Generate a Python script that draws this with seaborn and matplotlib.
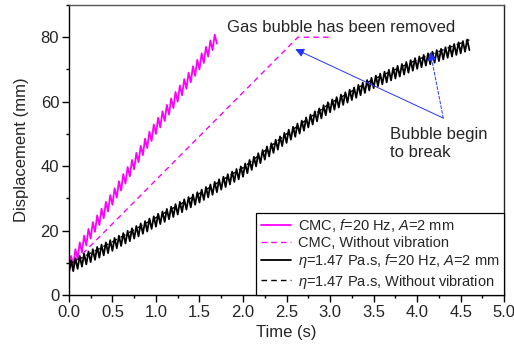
import numpy as np
import pandas as pd
import matplotlib
matplotlib.use("Agg")
import matplotlib.pyplot as plt
import seaborn as sns

# ---------------- data ----------------
# CMC, f=20 Hz, A=2 mm : vertices of the vibrating trace (every 0.025 s, 0 -> 1.7 s)
cmc_vib_disp = [
    7.0, 12.1, 9.1, 14.2, 11.2, 16.3, 13.3, 18.4, 15.4, 20.5,
    17.5, 22.6, 19.6, 24.7, 21.7, 26.8, 23.8, 28.9, 25.9, 31.0,
    28.0, 33.1, 30.2, 35.3, 32.4, 37.5, 34.6, 39.7, 36.8, 41.9,
    39.0, 44.1, 41.2, 46.3, 43.4, 48.5, 45.6, 50.7, 47.8, 52.9,
    50.0, 55.0, 52.0, 57.0, 54.0, 59.0, 56.0, 61.0, 58.0, 63.0,
    60.0, 65.0, 62.0, 67.0, 64.0, 69.0, 66.0, 71.0, 68.0, 73.0,
    70.0, 75.0, 72.0, 77.0, 74.0, 79.0, 76.0, 80.8, 78.0,
]
cmc_vib_t_end = 1.7

# CMC, without vibration
cmc_novib_t = [0.0, 2.63, 3.0]
cmc_novib_disp = [8.5, 80.0, 80.0]

# eta=1.47 Pa.s, f=20 Hz, A=2 mm : vertices every 0.025 s, 0 -> 4.6 s
eta_vib_disp = [
    6.7, 10.7, 7.4, 11.4, 8.1, 12.1, 8.8, 12.8, 9.5, 13.5,
    10.2, 14.2, 10.9, 14.9, 11.6, 15.6, 12.3, 16.3, 13.0, 17.0,
    13.7, 17.7, 14.5, 18.4, 15.2, 19.2, 16.0, 19.9, 16.7, 20.7,
    17.5, 21.4, 18.2, 22.2, 19.0, 22.9, 19.7, 23.7, 20.5, 24.4,
    21.2, 25.2, 22.0, 25.9, 22.7, 26.7, 23.5, 27.4, 24.2, 28.2,
    25.0, 28.9, 25.7, 29.7, 26.5, 30.4, 27.2, 31.2, 28.0, 31.9,
    28.7, 32.7, 29.5, 33.5, 30.3, 34.3, 31.1, 35.1, 31.9, 35.9,
    32.7, 36.7, 33.5, 37.5, 34.3, 38.3, 35.1, 39.1, 35.9, 39.9,
    36.7, 40.8, 37.8, 41.9, 38.8, 42.9, 39.9, 44.0, 40.9, 45.0,
    42.0, 46.1, 43.0, 47.1, 44.1, 48.2, 45.1, 49.2, 46.2, 50.3,
    47.2, 51.3, 48.2, 52.2, 49.1, 53.2, 50.1, 54.1, 51.0, 55.1,
    52.0, 56.0, 52.9, 57.0, 53.9, 57.9, 54.8, 58.9, 55.8, 59.8,
    56.7, 60.7, 57.5, 61.4, 58.2, 62.2, 59.0, 62.9, 59.7, 63.7,
    60.5, 64.4, 61.2, 65.2, 62.0, 65.9, 62.7, 66.7, 63.5, 67.4,
    64.2, 68.1, 64.8, 68.7, 65.4, 69.3, 66.0, 69.9, 66.6, 70.5,
    67.2, 71.1, 67.8, 71.7, 68.4, 72.3, 69.0, 72.9, 69.6, 73.5,
    70.2, 74.0, 70.7, 74.5, 71.2, 75.0, 71.6, 75.5, 72.1, 76.0,
    72.6, 76.4, 73.1, 76.9, 73.6, 77.4, 74.0, 77.9, 74.5, 78.4,
    75.0, 78.8, 75.5, 79.3, 76.0,
]
eta_vib_t_end = 4.6

# eta=1.47 Pa.s, without vibration
eta_novib_t = [0.0, 0.5, 1.0, 1.5, 2.0, 2.5, 3.0, 3.5, 4.0, 4.6]
eta_novib_disp = [9.5, 16.5, 24.0, 31.5, 39.5, 50.0, 59.5, 67.0, 73.0, 79.2]

labels = [
    "CMC, $f$=20 Hz, $A$=2 mm",
    "CMC, Without vibration",
    r"$\eta$=1.47 Pa.s, $f$=20 Hz, $A$=2 mm",
    r"$\eta$=1.47 Pa.s, Without vibration",
]
x_ticks = [0.0, 0.5, 1.0, 1.5, 2.0, 2.5, 3.0, 3.5, 4.0, 4.5, 5.0]
y_ticks = [0, 20, 40, 60, 80]

# ---------------- style ----------------
sns.set_theme(style="ticks")
plt.rcParams["font.family"] = ["Liberation Sans", "DejaVu Sans"]
plt.rcParams["mathtext.fontset"] = "custom"
plt.rcParams["mathtext.rm"] = "Liberation Sans"
plt.rcParams["mathtext.it"] = "Liberation Sans:italic"
plt.rcParams["mathtext.bf"] = "Liberation Sans:bold"

fig = plt.figure(figsize=(5.14, 3.45), dpi=100)
ax = fig.add_axes([0.134, 0.145, 0.847, 0.8405])

t_cmc = np.linspace(0, cmc_vib_t_end, len(cmc_vib_disp))
t_eta = np.linspace(0, eta_vib_t_end, len(eta_vib_disp))

MAG = "#ff00ff"
sns.lineplot(x=t_cmc, y=cmc_vib_disp, ax=ax, color=MAG, lw=1.3,
             sort=False, estimator=None, label=labels[0])
sns.lineplot(x=cmc_novib_t, y=cmc_novib_disp, ax=ax, color=MAG, lw=1.0,
             sort=False, estimator=None, label=labels[1])
sns.lineplot(x=t_eta, y=eta_vib_disp, ax=ax, color="black", lw=1.3,
             sort=False, estimator=None, label=labels[2])
sns.lineplot(x=eta_novib_t, y=eta_novib_disp, ax=ax, color="black", lw=1.0,
             sort=False, estimator=None, label=labels[3])
ax.lines[1].set_dashes([4, 3])
ax.lines[3].set_dashes([4, 3])

ax.set_xlim(0, 5.0)
ax.set_ylim(0, 90)
ax.set_xticks(x_ticks)
ax.set_xticklabels([f"{v:.1f}" for v in x_ticks])
ax.set_yticks(y_ticks)
ax.xaxis.set_minor_locator(matplotlib.ticker.MultipleLocator(0.25))
ax.yaxis.set_minor_locator(matplotlib.ticker.MultipleLocator(10))
ax.tick_params(which="major", direction="out", length=5, width=1,
               labelsize=12, color="black", pad=2)
ax.tick_params(which="minor", direction="out", length=2.5, width=1,
               color="black")
ax.tick_params(top=False, right=False, which="both")
for s in ax.spines.values():
    s.set_visible(True)
    s.set_linewidth(1.0)
    s.set_color("black")
ax.spines["top"].set_color("#555555")
ax.spines["right"].set_color("#222222")

ax.set_xlabel("Time (s)", fontsize=12, labelpad=4)
ax.set_ylabel("Displacement (mm)", fontsize=12, labelpad=8)

leg = ax.legend(loc="lower right", fontsize=10.5, frameon=True, fancybox=False,
                edgecolor="black", framealpha=1, borderaxespad=0,
                handlelength=2.1, handletextpad=0.5, labelspacing=0.15,
                borderpad=0.3)
leg.get_frame().set_linewidth(0.9)

# annotations
ax.text(1.816, 83.1, "Gas bubble has been removed", fontsize=12,
        ha="left", va="center")
ax.text(3.69, 47.0, "Bubble begin\nto break", fontsize=12, ha="left",
        va="center", linespacing=1.25)
ax.annotate("", xy=(2.60, 76.3), xytext=(4.30, 54.9),
            arrowprops=dict(arrowstyle="-|>", color="#2233ff", lw=0.7,
                            mutation_scale=13, shrinkA=0, shrinkB=0))
ax.annotate("", xy=(4.15, 75.5), xytext=(4.30, 54.9),
            arrowprops=dict(arrowstyle="-|>", color="#2233ff", lw=0.7,
                            ls=(0, (3, 2)), mutation_scale=13,
                            shrinkA=0, shrinkB=0))

fig.savefig("out.png", dpi=100)
